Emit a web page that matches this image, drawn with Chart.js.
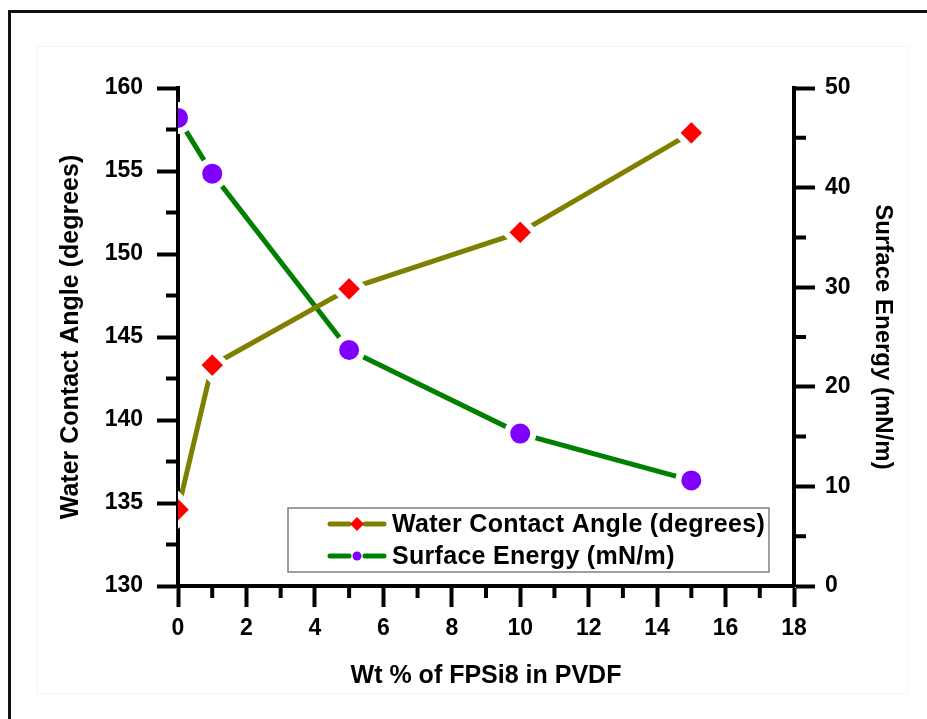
<!DOCTYPE html>
<html>
<head>
<meta charset="utf-8">
<script src="https://cdn.jsdelivr.net/npm/chart.js@4.4.1/dist/chart.umd.min.js"></script>
<style>
  html, body { margin: 0; padding: 0; background: #fff; }
  #wrap { position: relative; width: 927px; height: 719px; overflow: hidden; }
  #frame { position: absolute; left: 8px; top: 10px; width: 940px; height: 730px; border-top: 3px solid #111; border-left: 3px solid #111; }
  #inner { position: absolute; left: 37px; top: 46px; width: 869px; height: 646px; border: 1px solid #f5f5f5; }
  canvas { position: absolute; left: 0; top: 0; }
</style>
</head>
<body>
<div id="wrap">
  <div id="frame"></div>
  <div id="inner"></div>
  <canvas id="chart" width="927" height="719"></canvas>
</div>
<script>
// values
const wtPercent = [0, 1, 5, 10, 15];
const contactAngle = [134.6, 143.3, 147.9, 151.3, 157.3];
const surfaceEnergy = [47.0, 41.4, 23.7, 15.3, 10.6];
const seriesNames = ['Water Contact Angle (degrees)', 'Surface Energy (mN/m)'];

// axis ranges: [min, max, major step]
const xRange = [0, 18, 2];
const angleRange = [130, 160, 5];
const energyRange = [0, 50, 10];

const xTitle = 'Wt % of FPSi8 in PVDF';

const FAMILY = "'Liberation Sans', Arial, sans-serif";
const font = (size) => ({ family: FAMILY, size: size, weight: 'bold' });

// Helper: common axis look
const axisStyle = (range, padding) => ({
  type: 'linear',
  min: range[0],
  max: range[1],
  ticks: { stepSize: range[2], padding: padding, color: '#000', font: font(23) },
  grid: { drawOnChartArea: false, drawTicks: true, tickLength: 21, tickWidth: 4, tickColor: '#000' },
  border: { display: true, width: 4, color: '#000' },
  z: 1
});

// keep markers inside the plot box (half hidden at x = 0)
const plotClip = {
  id: 'plotClip',
  beforeDatasetsDraw(chart) {
    const a = chart.chartArea;
    chart.ctx.save();
    chart.ctx.beginPath();
    chart.ctx.rect(a.left, a.top - 20, a.right - a.left, a.bottom - a.top + 20);
    chart.ctx.clip();
  },
  afterDatasetsDraw(chart) {
    chart.ctx.restore();
  }
};

// minor ticks, shorter than the major ones
const minorTicks = {
  id: 'minorTicks',
  afterDraw(chart) {
    const { ctx, chartArea: a, scales } = chart;
    ctx.save();
    ctx.strokeStyle = '#000';
    ctx.lineWidth = 4;
    ctx.beginPath();
    for (let v = xRange[0] + xRange[2] / 2; v < xRange[1]; v += xRange[2]) {
      const px = scales.x.getPixelForValue(v);
      ctx.moveTo(px, a.bottom); ctx.lineTo(px, a.bottom + 12);
    }
    for (let v = angleRange[0] + angleRange[2] / 2; v < angleRange[1]; v += angleRange[2]) {
      const py = scales.y.getPixelForValue(v);
      ctx.moveTo(a.left, py); ctx.lineTo(a.left - 12, py);
    }
    for (let v = energyRange[0] + energyRange[2] / 2; v < energyRange[1]; v += energyRange[2]) {
      const py = scales.y1.getPixelForValue(v);
      ctx.moveTo(a.right, py); ctx.lineTo(a.right + 12, py);
    }
    ctx.stroke();
    ctx.restore();
  }
};

// boxed legend inside the plot, lower right
const boxLegend = {
  id: 'boxLegend',
  afterDraw(chart) {
    const { ctx } = chart;
    const bx = 288, by = 508, bw = 481, bh = 64;
    ctx.save();
    ctx.fillStyle = '#fff';
    ctx.fillRect(bx, by, bw, bh);
    ctx.strokeStyle = '#808080';
    ctx.lineWidth = 1.5;
    ctx.strokeRect(bx, by, bw, bh);

    chart.data.datasets.forEach((ds, i) => {
      const y = 524 + i * 32;
      const mx = 357;
      ctx.strokeStyle = ds.borderColor;
      ctx.lineWidth = 5;
      ctx.lineCap = 'round';
      ctx.beginPath();
      ctx.moveTo(330, y); ctx.lineTo(349, y);
      ctx.moveTo(365, y); ctx.lineTo(384, y);
      ctx.stroke();

      ctx.fillStyle = ds.pointBackgroundColor;
      ctx.beginPath();
      if (ds.pointStyle === 'rectRot') {
        const r = 7;
        ctx.moveTo(mx - r, y); ctx.lineTo(mx, y - r); ctx.lineTo(mx + r, y); ctx.lineTo(mx, y + r);
        ctx.closePath();
      } else {
        ctx.arc(mx, y, 4.5, 0, Math.PI * 2);
      }
      ctx.fill();

      ctx.fillStyle = '#000';
      ctx.font = 'bold 25px ' + FAMILY;
      ctx.letterSpacing = '0.3px';
      ctx.textBaseline = 'middle';
      ctx.textAlign = 'left';
      ctx.fillText(ds.label, 392, y + 1);
    });
    ctx.restore();
  }
};

const ctx = document.getElementById('chart').getContext('2d');
new Chart(ctx, {
  type: 'line',
  data: {
    datasets: [
      {
        label: seriesNames[0],
        data: wtPercent.map((x, i) => ({ x: x, y: contactAngle[i] })),
        yAxisID: 'y',
        borderColor: '#808000',
        borderWidth: 5,
        pointStyle: 'rectRot',
        pointRadius: 15,
        pointBackgroundColor: '#ff0000',
        pointBorderColor: '#ffffff',
        pointBorderWidth: 6,
        tension: 0
      },
      {
        label: seriesNames[1],
        data: wtPercent.map((x, i) => ({ x: x, y: surfaceEnergy[i] })),
        yAxisID: 'y1',
        borderColor: '#008000',
        borderWidth: 5,
        pointStyle: 'circle',
        pointRadius: 13,
        pointBackgroundColor: '#8000ff',
        pointBorderColor: '#ffffff',
        pointBorderWidth: 6,
        tension: 0
      }
    ]
  },
  options: {
    responsive: false,
    animation: false,
    events: [],
    layout: { padding: { left: 56, right: 30, top: 88, bottom: 28 } },
    plugins: { legend: { display: false }, tooltip: { enabled: false } },
    scales: {
      x: Object.assign(axisStyle(xRange, 8), {
        title: { display: true, text: xTitle, color: '#000', font: font(25), padding: 0 },
        afterFit: (s) => { s.height = 719 - 586 - 28; }
      }),
      y: Object.assign(axisStyle(angleRange, 14), {
        position: 'left',
        title: { display: true, text: seriesNames[0], color: '#000', font: font(25), padding: 0 },
        afterFit: (s) => { s.width = 178 - 56; }
      }),
      y1: Object.assign(axisStyle(energyRange, 10), {
        position: 'right',
        title: { display: true, text: seriesNames[1], color: '#000', font: font(24), padding: 0 },
        afterFit: (s) => { s.width = 927 - 30 - 794; }
      })
    }
  },
  plugins: [plotClip, minorTicks, boxLegend]
});
</script>
</body>
</html>
